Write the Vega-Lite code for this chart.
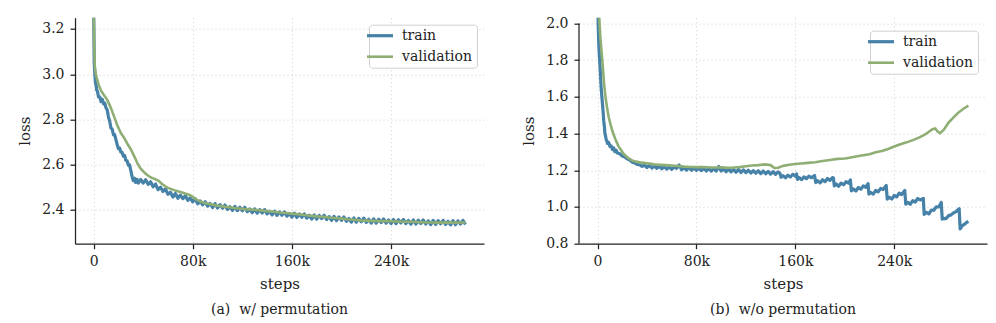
{
  "$schema": "https://vega.github.io/schema/vega-lite/v6.json",
  "padding": {"left": 17, "top": 15.7, "right": 5, "bottom": 2},
  "background": "white",
  "spacing": 37,
  "config": {
    "font": "DejaVu Serif",
    "view": {"stroke": null},
    "axis": {
      "domainColor": "#222222", "domainWidth": 1.25,
      "tickColor": "#222222", "tickWidth": 1.25, "tickSize": 5,
      "labelFont": "DejaVu Serif", "labelFontSize": 14, "labelColor": "#222222", "labelPadding": 6,
      "titleFont": "DejaVu Serif", "titleFontSize": 15, "titleFontWeight": "normal", "titleColor": "#222222",
      "gridColor": "#d0d0d0", "gridDash": [1, 3], "gridWidth": 1
    },
    "axisX": {"titlePadding": 8},
    "axisY": {"titlePadding": 9},
    "legend": {
      "orient": "top-right", "offset": 7, "padding": 4, "title": null,
      "strokeColor": "#d0d0d0", "fillColor": "white", "cornerRadius": 3,
      "symbolType": "M-2.6,0H2.6", "symbolSize": 100, "symbolStrokeWidth": 3,
      "labelFont": "DejaVu Serif", "labelFontSize": 14, "labelColor": "#222222", "labelOffset": 15,
      "rowPadding": 7
    },
    "title": {"font": "DejaVu Serif", "fontSize": 14, "fontWeight": "normal", "color": "#222222", "orient": "bottom", "offset": 11.5}
  },
  "datasets": {
    "a": [
      {"step":0,"loss":3.32,"series":"train"},{"step":0.5,"loss":3.05,"series":"train"},{"step":1,"loss":3.0,"series":"train"},{"step":1.5,"loss":2.96,"series":"train"},{"step":2,"loss":2.952,"series":"train"},{"step":2.5,"loss":2.93,"series":"train"},{"step":3,"loss":2.926,"series":"train"},{"step":4,"loss":2.9,"series":"train"},{"step":5,"loss":2.9,"series":"train"},{"step":6,"loss":2.879,"series":"train"},{"step":7,"loss":2.889,"series":"train"},{"step":8,"loss":2.869,"series":"train"},{"step":9,"loss":2.872,"series":"train"},{"step":10,"loss":2.851,"series":"train"},{"step":11,"loss":2.842,"series":"train"},{"step":12,"loss":2.81,"series":"train"},{"step":13,"loss":2.792,"series":"train"},{"step":14,"loss":2.762,"series":"train"},{"step":15,"loss":2.757,"series":"train"},{"step":16,"loss":2.732,"series":"train"},{"step":17,"loss":2.733,"series":"train"},{"step":18,"loss":2.71,"series":"train"},{"step":19,"loss":2.689,"series":"train"},{"step":20,"loss":2.671,"series":"train"},{"step":21,"loss":2.673,"series":"train"},{"step":22,"loss":2.655,"series":"train"},{"step":23,"loss":2.654,"series":"train"},{"step":24,"loss":2.637,"series":"train"},{"step":25,"loss":2.641,"series":"train"},{"step":26,"loss":2.619,"series":"train"},{"step":27,"loss":2.617,"series":"train"},{"step":28,"loss":2.598,"series":"train"},{"step":29,"loss":2.599,"series":"train"},{"step":30,"loss":2.574,"series":"train"},{"step":31,"loss":2.548,"series":"train"},{"step":32,"loss":2.529,"series":"train"},{"step":33,"loss":2.54,"series":"train"},{"step":34,"loss":2.521,"series":"train"},{"step":35,"loss":2.535,"series":"train"},{"step":36,"loss":2.518,"series":"train"},{"step":38,"loss":2.534,"series":"train"},{"step":40,"loss":2.518,"series":"train"},{"step":42,"loss":2.533,"series":"train"},{"step":44,"loss":2.513,"series":"train"},{"step":46,"loss":2.524,"series":"train"},{"step":48,"loss":2.502,"series":"train"},{"step":50,"loss":2.514,"series":"train"},{"step":52,"loss":2.489,"series":"train"},{"step":54,"loss":2.5,"series":"train"},{"step":56,"loss":2.481,"series":"train"},{"step":58,"loss":2.492,"series":"train"},{"step":60,"loss":2.469,"series":"train"},{"step":62,"loss":2.478,"series":"train"},{"step":64,"loss":2.456,"series":"train"},{"step":66,"loss":2.472,"series":"train"},{"step":68,"loss":2.451,"series":"train"},{"step":70,"loss":2.465,"series":"train"},{"step":72,"loss":2.449,"series":"train"},{"step":74,"loss":2.462,"series":"train"},{"step":76,"loss":2.442,"series":"train"},{"step":78,"loss":2.453,"series":"train"},{"step":80,"loss":2.435,"series":"train"},{"step":82,"loss":2.449,"series":"train"},{"step":84,"loss":2.426,"series":"train"},{"step":86,"loss":2.439,"series":"train"},{"step":88,"loss":2.422,"series":"train"},{"step":90,"loss":2.436,"series":"train"},{"step":92,"loss":2.416,"series":"train"},{"step":94,"loss":2.428,"series":"train"},{"step":96,"loss":2.41,"series":"train"},{"step":98,"loss":2.427,"series":"train"},{"step":100,"loss":2.408,"series":"train"},{"step":102,"loss":2.423,"series":"train"},{"step":104,"loss":2.407,"series":"train"},{"step":106,"loss":2.421,"series":"train"},{"step":108,"loss":2.402,"series":"train"},{"step":110,"loss":2.414,"series":"train"},{"step":112,"loss":2.397,"series":"train"},{"step":114,"loss":2.415,"series":"train"},{"step":116,"loss":2.396,"series":"train"},{"step":118,"loss":2.411,"series":"train"},{"step":120,"loss":2.396,"series":"train"},{"step":122,"loss":2.411,"series":"train"},{"step":124,"loss":2.392,"series":"train"},{"step":126,"loss":2.404,"series":"train"},{"step":128,"loss":2.387,"series":"train"},{"step":130,"loss":2.404,"series":"train"},{"step":132,"loss":2.385,"series":"train"},{"step":134,"loss":2.401,"series":"train"},{"step":136,"loss":2.386,"series":"train"},{"step":138,"loss":2.401,"series":"train"},{"step":140,"loss":2.382,"series":"train"},{"step":142,"loss":2.394,"series":"train"},{"step":144,"loss":2.377,"series":"train"},{"step":146,"loss":2.394,"series":"train"},{"step":148,"loss":2.375,"series":"train"},{"step":150,"loss":2.391,"series":"train"},{"step":152,"loss":2.376,"series":"train"},{"step":154,"loss":2.391,"series":"train"},{"step":156,"loss":2.372,"series":"train"},{"step":158,"loss":2.384,"series":"train"},{"step":160,"loss":2.367,"series":"train"},{"step":162,"loss":2.385,"series":"train"},{"step":164,"loss":2.366,"series":"train"},{"step":166,"loss":2.382,"series":"train"},{"step":168,"loss":2.367,"series":"train"},{"step":170,"loss":2.382,"series":"train"},{"step":172,"loss":2.363,"series":"train"},{"step":174,"loss":2.376,"series":"train"},{"step":176,"loss":2.359,"series":"train"},{"step":178,"loss":2.377,"series":"train"},{"step":180,"loss":2.359,"series":"train"},{"step":182,"loss":2.375,"series":"train"},{"step":184,"loss":2.361,"series":"train"},{"step":186,"loss":2.376,"series":"train"},{"step":188,"loss":2.357,"series":"train"},{"step":190,"loss":2.37,"series":"train"},{"step":192,"loss":2.353,"series":"train"},{"step":194,"loss":2.371,"series":"train"},{"step":196,"loss":2.352,"series":"train"},{"step":198,"loss":2.368,"series":"train"},{"step":200,"loss":2.353,"series":"train"},{"step":202,"loss":2.368,"series":"train"},{"step":204,"loss":2.349,"series":"train"},{"step":206,"loss":2.362,"series":"train"},{"step":208,"loss":2.345,"series":"train"},{"step":210,"loss":2.364,"series":"train"},{"step":212,"loss":2.345,"series":"train"},{"step":214,"loss":2.362,"series":"train"},{"step":216,"loss":2.347,"series":"train"},{"step":218,"loss":2.363,"series":"train"},{"step":220,"loss":2.344,"series":"train"},{"step":222,"loss":2.358,"series":"train"},{"step":224,"loss":2.341,"series":"train"},{"step":226,"loss":2.36,"series":"train"},{"step":228,"loss":2.341,"series":"train"},{"step":230,"loss":2.358,"series":"train"},{"step":232,"loss":2.344,"series":"train"},{"step":234,"loss":2.359,"series":"train"},{"step":236,"loss":2.341,"series":"train"},{"step":238,"loss":2.355,"series":"train"},{"step":240,"loss":2.339,"series":"train"},{"step":242,"loss":2.357,"series":"train"},{"step":244,"loss":2.339,"series":"train"},{"step":246,"loss":2.356,"series":"train"},{"step":248,"loss":2.342,"series":"train"},{"step":250,"loss":2.357,"series":"train"},{"step":252,"loss":2.339,"series":"train"},{"step":254,"loss":2.353,"series":"train"},{"step":256,"loss":2.336,"series":"train"},{"step":258,"loss":2.355,"series":"train"},{"step":260,"loss":2.337,"series":"train"},{"step":262,"loss":2.354,"series":"train"},{"step":264,"loss":2.339,"series":"train"},{"step":266,"loss":2.355,"series":"train"},{"step":268,"loss":2.337,"series":"train"},{"step":270,"loss":2.351,"series":"train"},{"step":272,"loss":2.334,"series":"train"},{"step":274,"loss":2.353,"series":"train"},{"step":276,"loss":2.335,"series":"train"},{"step":278,"loss":2.352,"series":"train"},{"step":280,"loss":2.338,"series":"train"},{"step":282,"loss":2.353,"series":"train"},{"step":284,"loss":2.335,"series":"train"},{"step":286,"loss":2.349,"series":"train"},{"step":288,"loss":2.333,"series":"train"},{"step":290,"loss":2.352,"series":"train"},{"step":292,"loss":2.334,"series":"train"},{"step":294,"loss":2.351,"series":"train"},{"step":296,"loss":2.337,"series":"train"},{"step":298,"loss":2.353,"series":"train"},{"step":300,"loss":2.335,"series":"train"},
      {"step":0,"loss":3.3,"series":"validation"},{"step":0.5,"loss":3.12,"series":"validation"},{"step":1,"loss":3.03,"series":"validation"},{"step":2,"loss":2.995,"series":"validation"},{"step":3.2,"loss":2.97,"series":"validation"},{"step":4,"loss":2.955,"series":"validation"},{"step":6,"loss":2.927,"series":"validation"},{"step":8,"loss":2.91,"series":"validation"},{"step":10,"loss":2.895,"series":"validation"},{"step":11.3,"loss":2.883,"series":"validation"},{"step":14,"loss":2.85,"series":"validation"},{"step":16.7,"loss":2.81,"series":"validation"},{"step":19.4,"loss":2.77,"series":"validation"},{"step":22,"loss":2.74,"series":"validation"},{"step":25,"loss":2.715,"series":"validation"},{"step":27.5,"loss":2.69,"series":"validation"},{"step":30,"loss":2.668,"series":"validation"},{"step":32.5,"loss":2.64,"series":"validation"},{"step":35,"loss":2.61,"series":"validation"},{"step":37.5,"loss":2.585,"series":"validation"},{"step":40,"loss":2.57,"series":"validation"},{"step":42.5,"loss":2.557,"series":"validation"},{"step":45,"loss":2.547,"series":"validation"},{"step":47.5,"loss":2.54,"series":"validation"},{"step":50,"loss":2.535,"series":"validation"},{"step":52.5,"loss":2.528,"series":"validation"},{"step":55,"loss":2.515,"series":"validation"},{"step":57.5,"loss":2.505,"series":"validation"},{"step":60,"loss":2.497,"series":"validation"},{"step":65,"loss":2.487,"series":"validation"},{"step":70,"loss":2.479,"series":"validation"},{"step":75,"loss":2.47,"series":"validation"},{"step":78,"loss":2.464,"series":"validation"},{"step":80,"loss":2.457,"series":"validation"},{"step":83,"loss":2.445,"series":"validation"},{"step":86,"loss":2.437,"series":"validation"},{"step":90,"loss":2.43,"series":"validation"},{"step":95,"loss":2.424,"series":"validation"},{"step":100,"loss":2.418,"series":"validation"},{"step":105,"loss":2.414,"series":"validation"},{"step":110,"loss":2.411,"series":"validation"},{"step":115,"loss":2.407,"series":"validation"},{"step":120,"loss":2.404,"series":"validation"},{"step":125,"loss":2.402,"series":"validation"},{"step":130,"loss":2.4,"series":"validation"},{"step":135,"loss":2.397,"series":"validation"},{"step":140,"loss":2.394,"series":"validation"},{"step":145,"loss":2.391,"series":"validation"},{"step":150,"loss":2.388,"series":"validation"},{"step":155,"loss":2.386,"series":"validation"},{"step":160,"loss":2.383,"series":"validation"},{"step":165,"loss":2.38,"series":"validation"},{"step":170,"loss":2.377,"series":"validation"},{"step":175,"loss":2.374,"series":"validation"},{"step":180,"loss":2.371,"series":"validation"},{"step":185,"loss":2.369,"series":"validation"},{"step":190,"loss":2.366,"series":"validation"},{"step":195,"loss":2.364,"series":"validation"},{"step":200,"loss":2.361,"series":"validation"},{"step":205,"loss":2.358,"series":"validation"},{"step":210,"loss":2.356,"series":"validation"},{"step":215,"loss":2.353,"series":"validation"},{"step":220,"loss":2.352,"series":"validation"},{"step":230,"loss":2.35,"series":"validation"},{"step":240,"loss":2.349,"series":"validation"},{"step":250,"loss":2.347,"series":"validation"},{"step":260,"loss":2.346,"series":"validation"},{"step":270,"loss":2.344,"series":"validation"},{"step":280,"loss":2.343,"series":"validation"},{"step":290,"loss":2.343,"series":"validation"},{"step":300,"loss":2.344,"series":"validation"}
    ],
    "b": [
      {"step":0,"loss":2.6,"series":"train"},{"step":0.5,"loss":2.0,"series":"train"},{"step":1,"loss":1.89,"series":"train"},{"step":1.5,"loss":1.82,"series":"train"},{"step":2,"loss":1.77,"series":"train"},{"step":2.5,"loss":1.7,"series":"train"},{"step":3,"loss":1.64,"series":"train"},{"step":3.5,"loss":1.6,"series":"train"},{"step":4,"loss":1.56,"series":"train"},{"step":4.5,"loss":1.52,"series":"train"},{"step":5,"loss":1.47,"series":"train"},{"step":5.5,"loss":1.44,"series":"train"},{"step":6,"loss":1.4,"series":"train"},{"step":6.5,"loss":1.385,"series":"train"},{"step":7,"loss":1.366,"series":"train"},{"step":7.5,"loss":1.36,"series":"train"},{"step":8,"loss":1.346,"series":"train"},{"step":9,"loss":1.352,"series":"train"},{"step":10,"loss":1.33,"series":"train"},{"step":11,"loss":1.333,"series":"train"},{"step":12,"loss":1.313,"series":"train"},{"step":13,"loss":1.322,"series":"train"},{"step":14,"loss":1.301,"series":"train"},{"step":15,"loss":1.309,"series":"train"},{"step":16,"loss":1.294,"series":"train"},{"step":18,"loss":1.29,"series":"train"},{"step":20,"loss":1.277,"series":"train"},{"step":22,"loss":1.272,"series":"train"},{"step":24,"loss":1.262,"series":"train"},{"step":26,"loss":1.256,"series":"train"},{"step":28,"loss":1.244,"series":"train"},{"step":30,"loss":1.24,"series":"train"},{"step":32,"loss":1.232,"series":"train"},{"step":34,"loss":1.23,"series":"train"},{"step":36,"loss":1.221,"series":"train"},{"step":38,"loss":1.228,"series":"train"},{"step":40,"loss":1.215,"series":"train"},{"step":42,"loss":1.227,"series":"train"},{"step":44,"loss":1.212,"series":"train"},{"step":46,"loss":1.224,"series":"train"},{"step":48,"loss":1.21,"series":"train"},{"step":50,"loss":1.222,"series":"train"},{"step":52,"loss":1.208,"series":"train"},{"step":54,"loss":1.22,"series":"train"},{"step":56,"loss":1.206,"series":"train"},{"step":58,"loss":1.218,"series":"train"},{"step":60,"loss":1.205,"series":"train"},{"step":62,"loss":1.217,"series":"train"},{"step":64,"loss":1.21,"series":"train"},{"step":66,"loss":1.229,"series":"train"},{"step":68,"loss":1.203,"series":"train"},{"step":70,"loss":1.215,"series":"train"},{"step":72,"loss":1.201,"series":"train"},{"step":74,"loss":1.214,"series":"train"},{"step":76,"loss":1.2,"series":"train"},{"step":78,"loss":1.213,"series":"train"},{"step":80,"loss":1.199,"series":"train"},{"step":82,"loss":1.212,"series":"train"},{"step":84,"loss":1.198,"series":"train"},{"step":86,"loss":1.211,"series":"train"},{"step":88,"loss":1.196,"series":"train"},{"step":90,"loss":1.21,"series":"train"},{"step":92,"loss":1.195,"series":"train"},{"step":94,"loss":1.209,"series":"train"},{"step":96,"loss":1.196,"series":"train"},{"step":98,"loss":1.221,"series":"train"},{"step":100,"loss":1.196,"series":"train"},{"step":102,"loss":1.207,"series":"train"},{"step":104,"loss":1.192,"series":"train"},{"step":106,"loss":1.206,"series":"train"},{"step":108,"loss":1.191,"series":"train"},{"step":110,"loss":1.205,"series":"train"},{"step":112,"loss":1.189,"series":"train"},{"step":114,"loss":1.204,"series":"train"},{"step":116,"loss":1.188,"series":"train"},{"step":118,"loss":1.202,"series":"train"},{"step":120,"loss":1.187,"series":"train"},{"step":122,"loss":1.2,"series":"train"},{"step":124,"loss":1.185,"series":"train"},{"step":126,"loss":1.198,"series":"train"},{"step":128,"loss":1.184,"series":"train"},{"step":130,"loss":1.197,"series":"train"},{"step":132,"loss":1.182,"series":"train"},{"step":134,"loss":1.196,"series":"train"},{"step":136,"loss":1.181,"series":"train"},{"step":138,"loss":1.194,"series":"train"},{"step":140,"loss":1.179,"series":"train"},{"step":142,"loss":1.192,"series":"train"},{"step":144,"loss":1.178,"series":"train"},{"step":146,"loss":1.191,"series":"train"},{"step":147.5,"loss":1.184,"series":"train"},{"step":148.5,"loss":1.162,"series":"train"},{"step":150,"loss":1.171,"series":"train"},{"step":152,"loss":1.159,"series":"train"},{"step":154,"loss":1.173,"series":"train"},{"step":156,"loss":1.163,"series":"train"},{"step":158,"loss":1.178,"series":"train"},{"step":160,"loss":1.168,"series":"train"},{"step":161,"loss":1.18,"series":"train"},{"step":161.8,"loss":1.15,"series":"train"},{"step":163,"loss":1.16,"series":"train"},{"step":165,"loss":1.149,"series":"train"},{"step":167,"loss":1.164,"series":"train"},{"step":169,"loss":1.154,"series":"train"},{"step":171,"loss":1.168,"series":"train"},{"step":173,"loss":1.159,"series":"train"},{"step":175.5,"loss":1.172,"series":"train"},{"step":176.5,"loss":1.133,"series":"train"},{"step":178,"loss":1.143,"series":"train"},{"step":180,"loss":1.131,"series":"train"},{"step":182,"loss":1.148,"series":"train"},{"step":184,"loss":1.138,"series":"train"},{"step":186,"loss":1.155,"series":"train"},{"step":188,"loss":1.145,"series":"train"},{"step":190,"loss":1.16,"series":"train"},{"step":190.8,"loss":1.158,"series":"train"},{"step":191.5,"loss":1.115,"series":"train"},{"step":193,"loss":1.125,"series":"train"},{"step":195,"loss":1.113,"series":"train"},{"step":197,"loss":1.13,"series":"train"},{"step":199,"loss":1.121,"series":"train"},{"step":201,"loss":1.138,"series":"train"},{"step":203,"loss":1.13,"series":"train"},{"step":204.5,"loss":1.147,"series":"train"},{"step":205.3,"loss":1.088,"series":"train"},{"step":207,"loss":1.098,"series":"train"},{"step":209,"loss":1.087,"series":"train"},{"step":211,"loss":1.106,"series":"train"},{"step":213,"loss":1.097,"series":"train"},{"step":215,"loss":1.115,"series":"train"},{"step":217,"loss":1.107,"series":"train"},{"step":218.8,"loss":1.127,"series":"train"},{"step":219.5,"loss":1.07,"series":"train"},{"step":221,"loss":1.079,"series":"train"},{"step":223,"loss":1.07,"series":"train"},{"step":225,"loss":1.09,"series":"train"},{"step":227,"loss":1.082,"series":"train"},{"step":229,"loss":1.101,"series":"train"},{"step":231,"loss":1.095,"series":"train"},{"step":233.5,"loss":1.117,"series":"train"},{"step":234.3,"loss":1.043,"series":"train"},{"step":236,"loss":1.053,"series":"train"},{"step":238,"loss":1.043,"series":"train"},{"step":240,"loss":1.063,"series":"train"},{"step":242,"loss":1.055,"series":"train"},{"step":244,"loss":1.075,"series":"train"},{"step":246,"loss":1.068,"series":"train"},{"step":248.5,"loss":1.09,"series":"train"},{"step":249.3,"loss":1.015,"series":"train"},{"step":251,"loss":1.025,"series":"train"},{"step":253,"loss":1.015,"series":"train"},{"step":255,"loss":1.035,"series":"train"},{"step":257,"loss":1.027,"series":"train"},{"step":259,"loss":1.046,"series":"train"},{"step":261,"loss":1.038,"series":"train"},{"step":263.5,"loss":1.047,"series":"train"},{"step":264.2,"loss":0.96,"series":"train"},{"step":266,"loss":0.971,"series":"train"},{"step":268,"loss":0.962,"series":"train"},{"step":270,"loss":0.983,"series":"train"},{"step":272,"loss":0.982,"series":"train"},{"step":274,"loss":1.001,"series":"train"},{"step":276,"loss":1.0,"series":"train"},{"step":278,"loss":1.025,"series":"train"},{"step":278.8,"loss":0.934,"series":"train"},{"step":280,"loss":0.938,"series":"train"},{"step":282,"loss":0.937,"series":"train"},{"step":284,"loss":0.953,"series":"train"},{"step":286,"loss":0.957,"series":"train"},{"step":288,"loss":0.968,"series":"train"},{"step":290,"loss":0.975,"series":"train"},{"step":292.5,"loss":0.99,"series":"train"},{"step":293.3,"loss":0.88,"series":"train"},{"step":295,"loss":0.898,"series":"train"},{"step":297,"loss":0.907,"series":"train"},{"step":299,"loss":0.918,"series":"train"},{"step":300,"loss":0.922,"series":"train"},
      {"step":0,"loss":2.6,"series":"validation"},{"step":1,"loss":2.12,"series":"validation"},{"step":1.6,"loss":2.0,"series":"validation"},{"step":2.3,"loss":1.92,"series":"validation"},{"step":3.2,"loss":1.85,"series":"validation"},{"step":4.3,"loss":1.76,"series":"validation"},{"step":5.3,"loss":1.67,"series":"validation"},{"step":6.4,"loss":1.6,"series":"validation"},{"step":7.5,"loss":1.55,"series":"validation"},{"step":9,"loss":1.49,"series":"validation"},{"step":10.5,"loss":1.45,"series":"validation"},{"step":12,"loss":1.415,"series":"validation"},{"step":13.5,"loss":1.385,"series":"validation"},{"step":15,"loss":1.36,"series":"validation"},{"step":17,"loss":1.33,"series":"validation"},{"step":19,"loss":1.31,"series":"validation"},{"step":21,"loss":1.29,"series":"validation"},{"step":23,"loss":1.277,"series":"validation"},{"step":25,"loss":1.266,"series":"validation"},{"step":28,"loss":1.253,"series":"validation"},{"step":31,"loss":1.247,"series":"validation"},{"step":34,"loss":1.243,"series":"validation"},{"step":38,"loss":1.24,"series":"validation"},{"step":42,"loss":1.236,"series":"validation"},{"step":46,"loss":1.232,"series":"validation"},{"step":50,"loss":1.23,"series":"validation"},{"step":55,"loss":1.228,"series":"validation"},{"step":60,"loss":1.226,"series":"validation"},{"step":65,"loss":1.223,"series":"validation"},{"step":70,"loss":1.22,"series":"validation"},{"step":75,"loss":1.218,"series":"validation"},{"step":80,"loss":1.217,"series":"validation"},{"step":85,"loss":1.218,"series":"validation"},{"step":90,"loss":1.216,"series":"validation"},{"step":95,"loss":1.215,"series":"validation"},{"step":100,"loss":1.216,"series":"validation"},{"step":105,"loss":1.214,"series":"validation"},{"step":110,"loss":1.215,"series":"validation"},{"step":115,"loss":1.217,"series":"validation"},{"step":120,"loss":1.222,"series":"validation"},{"step":125,"loss":1.226,"series":"validation"},{"step":130,"loss":1.228,"series":"validation"},{"step":135,"loss":1.232,"series":"validation"},{"step":140,"loss":1.228,"series":"validation"},{"step":143,"loss":1.212,"series":"validation"},{"step":146,"loss":1.214,"series":"validation"},{"step":150,"loss":1.224,"series":"validation"},{"step":155,"loss":1.23,"series":"validation"},{"step":160,"loss":1.234,"series":"validation"},{"step":165,"loss":1.237,"series":"validation"},{"step":170,"loss":1.24,"series":"validation"},{"step":176,"loss":1.244,"series":"validation"},{"step":182,"loss":1.25,"series":"validation"},{"step":188,"loss":1.256,"series":"validation"},{"step":194,"loss":1.262,"series":"validation"},{"step":200,"loss":1.264,"series":"validation"},{"step":205,"loss":1.27,"series":"validation"},{"step":210,"loss":1.276,"series":"validation"},{"step":215,"loss":1.282,"series":"validation"},{"step":220,"loss":1.287,"series":"validation"},{"step":225,"loss":1.298,"series":"validation"},{"step":230,"loss":1.305,"series":"validation"},{"step":235,"loss":1.316,"series":"validation"},{"step":238,"loss":1.324,"series":"validation"},{"step":241,"loss":1.332,"series":"validation"},{"step":245,"loss":1.342,"series":"validation"},{"step":250,"loss":1.352,"series":"validation"},{"step":255,"loss":1.364,"series":"validation"},{"step":260,"loss":1.378,"series":"validation"},{"step":265,"loss":1.395,"series":"validation"},{"step":268,"loss":1.41,"series":"validation"},{"step":271,"loss":1.424,"series":"validation"},{"step":273,"loss":1.428,"series":"validation"},{"step":275,"loss":1.412,"series":"validation"},{"step":277,"loss":1.402,"series":"validation"},{"step":280,"loss":1.42,"series":"validation"},{"step":284,"loss":1.46,"series":"validation"},{"step":288,"loss":1.488,"series":"validation"},{"step":292,"loss":1.515,"series":"validation"},{"step":296,"loss":1.535,"series":"validation"},{"step":300,"loss":1.552,"series":"validation"}
    ]
  },
  "hconcat": [
    {
      "width": 409, "height": 226,
      "data": {"name": "a"},
      "title": {"text": "(a)\u00a0 w/ permutation"},
      "mark": {"type": "line", "clip": true, "strokeJoin": "round"},
      "encoding": {
        "x": {"field": "step", "type": "quantitative", "scale": {"domain": [-15, 315], "nice": false, "zero": false},
              "axis": {"values": [0, 80, 160, 240], "title": "steps", "labelExpr": "datum.value === 0 ? '0' : datum.value + 'k'"}},
        "y": {"field": "loss", "type": "quantitative", "scale": {"domain": [2.25, 3.25], "nice": false, "zero": false},
              "axis": {"values": [2.4, 2.6, 2.8, 3.0, 3.2], "format": ".1f", "title": "loss"}},
        "color": {"field": "series", "type": "nominal", "scale": {"domain": ["train", "validation"], "range": ["#4681a8", "#8fae74"]}, "legend": {"title": null}},
        "strokeWidth": {"field": "series", "type": "nominal", "scale": {"domain": ["train", "validation"], "range": [3.2, 2.6]}, "legend": null}
      }
    },
    {
      "width": 408, "height": 226,
      "title": {"text": "(b)\u00a0 w/o permutation"},
      "layer": [
        {
          "data": {"name": "b"},
          "mark": {"type": "line", "clip": true, "strokeJoin": "round"},
          "encoding": {
            "x": {"field": "step", "type": "quantitative", "scale": {"domain": [-15, 315], "nice": false, "zero": false},
                  "axis": {"values": [0, 80, 160, 240], "title": "steps", "labelExpr": "datum.value === 0 ? '0' : datum.value + 'k'"}},
            "y": {"field": "loss", "type": "quantitative", "scale": {"domain": [0.8, 2.031], "nice": false, "zero": false},
                  "axis": {"values": [0.8, 1.0, 1.2, 1.4, 1.6, 1.8, 2.0], "format": ".1f", "title": "loss", "domain": false, "labelOverlap": false}},
            "color": {"field": "series", "type": "nominal", "scale": {"domain": ["train", "validation"], "range": ["#4681a8", "#8fae74"]}, "legend": {"title": null, "orient": "none", "legendX": 291, "legendY": 13}},
            "strokeWidth": {"field": "series", "type": "nominal", "scale": {"domain": ["train", "validation"], "range": [3.2, 2.6]}, "legend": null}
          }
        },
        {
          "data": {"values": [{"spine": "y"}]},
          "mark": {"type": "rule", "color": "#222222", "strokeWidth": 1.25},
          "encoding": {
            "x": {"datum": -15, "type": "quantitative"},
            "y": {"datum": 0.8, "type": "quantitative",
                  "axis": {"values": [0.8, 1.0, 1.2, 1.4, 1.6, 1.8, 2.0], "format": ".1f", "title": "loss", "domain": false, "labelOverlap": false}},
            "y2": {"datum": 2.0}
          }
        }
      ]
    }
  ],
  "resolve": {"scale": {"color": "independent", "strokeWidth": "independent"}, "legend": {"color": "independent", "strokeWidth": "independent"}}
}
